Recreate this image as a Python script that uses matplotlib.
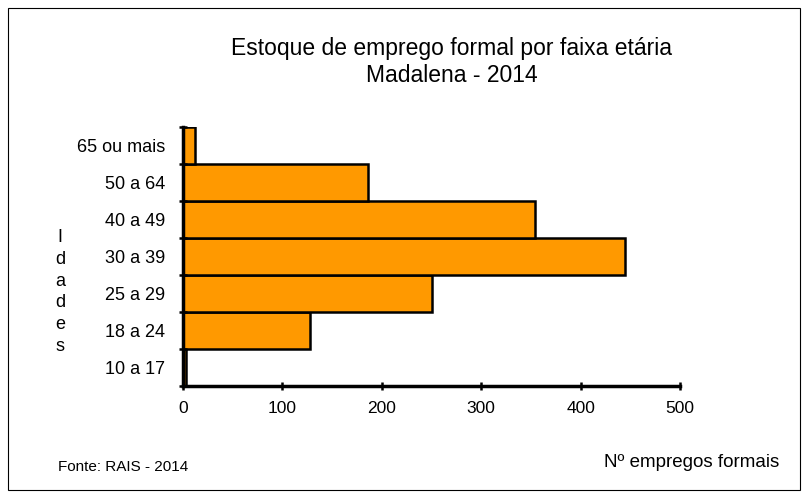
import matplotlib.pyplot as plt
import matplotlib.patches as patches

plt.rcParams['font.family'] = ['Liberation Sans', 'DejaVu Sans']

idades = ['10 a 17', '18 a 24', '25 a 29', '30 a 39', '40 a 49', '50 a 64', '65 ou mais']
empregos = [3, 128, 251, 445, 354, 186, 12]

fig = plt.figure(figsize=(8.09, 4.98), dpi=100)
# plot area in pixels: x 183..680, y 127..386
ax = fig.add_axes([183 / 809, 1 - 386 / 498, 497 / 809, 259 / 498])

ax.barh(range(len(idades)), empregos, height=1.0, color='#FF9900',
        edgecolor='black', linewidth=1.8)

ax.set_xlim(0, 500)
ax.set_ylim(-0.5, len(idades) - 0.5)
ax.set_xticks([0, 100, 200, 300, 400, 500])
ax.set_yticks([i - 0.5 for i in range(len(idades) + 1)], minor=True)
ax.set_yticks(range(len(idades)))
ax.set_yticklabels(idades)
ax.tick_params(axis='y', which='major', length=0, pad=13, labelsize=13)
ax.tick_params(axis='y', which='minor', length=6, width=1.8, direction='inout')
ax.tick_params(axis='x', length=6, width=1.8, direction='inout', labelsize=12.5, pad=8)

for s in ['top', 'right']:
    ax.spines[s].set_visible(False)
for s in ['left', 'bottom']:
    ax.spines[s].set_linewidth(2.5)

fig.text(452 / 809, 1 - 48 / 498, 'Estoque de emprego formal por faixa etária',
         ha='center', va='center', fontsize=16.5)
fig.text(452 / 809, 1 - 76 / 498, 'Madalena - 2014',
         ha='center', va='center', fontsize=16.5)
fig.text(60 / 809, 1 - 292 / 498, '\n'.join('Idades'), ha='center', va='center',
         fontsize=13, linespacing=1.36)
fig.text(58 / 809, 1 - 467 / 498, 'Fonte: RAIS - 2014', ha='left', va='center', fontsize=11)
fig.text(692 / 809, 1 - 462 / 498, 'Nº empregos formais', ha='center', va='center', fontsize=13.5)

fig.patches.append(patches.Rectangle((8 / 809, 8 / 498), 792 / 809, 482 / 498,
                                     transform=fig.transFigure, fill=False,
                                     edgecolor='black', linewidth=0.8))

fig.savefig('out.png', dpi=100)
